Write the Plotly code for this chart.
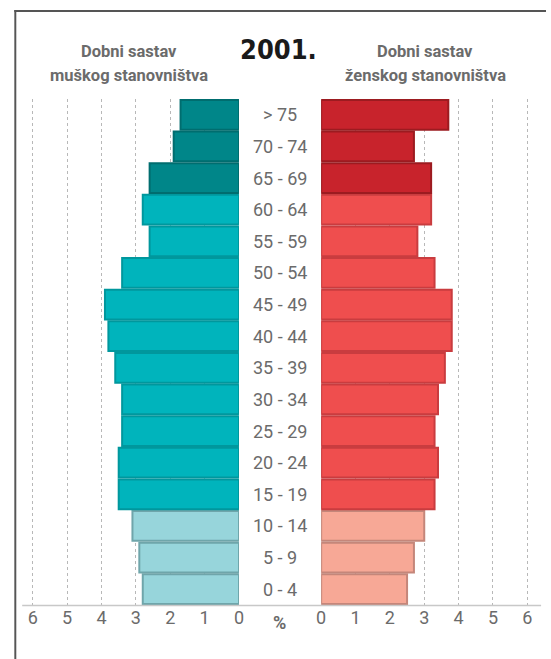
import plotly.graph_objects as go
from plotly.subplots import make_subplots

categories = ["0 - 4", "5 - 9", "10 - 14", "15 - 19", "20 - 24", "25 - 29", "30 - 34",
              "35 - 39", "40 - 44", "45 - 49", "50 - 54", "55 - 59", "60 - 64",
              "65 - 69", "70 - 74", "> 75"]
male = [2.8, 2.9, 3.1, 3.5, 3.5, 3.4, 3.4, 3.6, 3.8, 3.9, 3.4, 2.6, 2.8, 2.6, 1.9, 1.7]
female = [2.5, 2.7, 3.0, 3.3, 3.4, 3.3, 3.4, 3.6, 3.8, 3.8, 3.3, 2.8, 3.2, 3.2, 2.7, 3.7]
groups = ["young"] * 3 + ["mid"] * 10 + ["old"] * 3
tick_vals = [0, 1, 2, 3, 4, 5, 6]
year_title = "2001."
male_title = ["Dobni sastav", "muškog stanovništva"]
female_title = ["Dobni sastav", "ženskog stanovništva"]

male_fill = {"young": "#97D5DB", "mid": "#00B4BC", "old": "#008689"}
male_line = {"young": "#6FA5AA", "mid": "#00979D", "old": "#006D6F"}
female_fill = {"young": "#F7A896", "mid": "#EF4E4E", "old": "#C8232C"}
female_line = {"young": "#C4867A", "mid": "#C93C3F", "old": "#9C1B20"}

W, H = 551, 659
def px(x):
    return x / W
def py(y):
    return 1 - y / H

FONT = "DejaVu Sans Condensed, Roboto, sans-serif"
TICKFONT = "Roboto, sans-serif"
GRAY = "#6b6b6b"
FRAME = "#555555"

fig = make_subplots(rows=1, cols=2, shared_yaxes=True, horizontal_spacing=0)

fig.add_trace(go.Bar(
    y=categories, x=male, orientation="h",
    marker=dict(color=[male_fill[g] for g in groups],
                line=dict(color=[male_line[g] for g in groups], width=2)),
    hoverinfo="x+y", showlegend=False), row=1, col=1)
fig.add_trace(go.Bar(
    y=categories, x=female, orientation="h",
    marker=dict(color=[female_fill[g] for g in groups],
                line=dict(color=[female_line[g] for g in groups], width=2)),
    hoverinfo="x+y", showlegend=False), row=1, col=2)

axis_common = dict(
    tickvals=tick_vals, ticktext=[str(v) for v in tick_vals],
    showgrid=True, gridcolor="#b8b8b8", griddash="dot", gridwidth=1,
    zeroline=False, showline=False, ticks="",
    tickfont=dict(family=TICKFONT, size=18, color=GRAY),
    fixedrange=True,
)
fig.update_xaxes(range=[6.3, 0], domain=[px(17.8), px(238.3)], **axis_common, row=1, col=1)
fig.update_xaxes(range=[0, 6.3], domain=[px(322), px(542.5)], **axis_common, row=1, col=2)
fig.update_yaxes(showticklabels=False, showgrid=False, zeroline=False,
                 domain=[py(605), py(99)], range=[-0.5, len(categories) - 0.5],
                 fixedrange=True)

annotations = []
for c in categories:
    annotations.append(dict(x=px(280), xref="paper", y=c, yref="y", text=c,
                            showarrow=False, xanchor="center", yanchor="middle",
                            font=dict(family=TICKFONT, size=18, color=GRAY)))
annotations.append(dict(x=px(280), xref="paper", y=py(622), yref="paper", text="<b>%</b>",
                        showarrow=False, xanchor="center", yanchor="middle",
                        font=dict(family=TICKFONT, size=18, color=GRAY)))
annotations.append(dict(x=px(279), xref="paper", y=py(49), yref="paper", text="<b>" + year_title + "</b>",
                        showarrow=False, xanchor="center", yanchor="middle",
                        font=dict(family=FONT, size=27, color="#1a1a1a")))
for i, t in enumerate(male_title):
    annotations.append(dict(x=px(126), xref="paper", y=py(51 + 25 * i), yref="paper", text="<b>" + t + "</b>",
                            showarrow=False, xanchor="center", yanchor="middle",
                            font=dict(family=TICKFONT, size=16.5, color=GRAY)))
for i, t in enumerate(female_title):
    annotations.append(dict(x=px(428), xref="paper", y=py(51 + 25 * i), yref="paper", text="<b>" + t + "</b>",
                            showarrow=False, xanchor="center", yanchor="middle",
                            font=dict(family=TICKFONT, size=16.5, color=GRAY)))

shapes = [
    dict(type="line", xref="paper", yref="paper", x0=px(17.5), x1=px(546), y0=py(605.5), y1=py(605.5),
         line=dict(color="#c8c8c8", width=1.5)),
    # frame: left edge and top edge as thin filled rectangles
    dict(type="rect", xref="paper", yref="paper", x0=px(9.5), x1=px(11.5), y0=py(10), y1=0,
         fillcolor=FRAME, line=dict(width=0), layer="above"),
    dict(type="rect", xref="paper", yref="paper", x0=px(9.5), x1=1, y0=py(10), y1=py(12),
         fillcolor=FRAME, line=dict(width=0), layer="above"),
]

fig.update_layout(
    width=W, height=H, margin=dict(l=0, r=0, t=0, b=0),
    paper_bgcolor="white", plot_bgcolor="white",
    bargap=0.06, annotations=annotations, shapes=shapes,
)

fig.write_html("out.html", config={"displayModeBar": False, "staticPlot": True},
               post_script="document.body.style.margin='0';document.body.style.overflow='hidden';")
